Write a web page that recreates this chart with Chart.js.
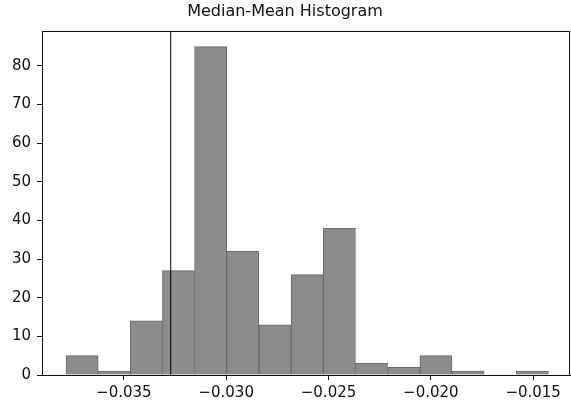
<!DOCTYPE html>
<html>
<head>
<meta charset="utf-8">
<script src="https://cdn.jsdelivr.net/npm/chart.js@4/dist/chart.umd.min.js"></script>
<style>
  html, body { margin: 0; padding: 0; background: #fff; overflow: hidden; }
  #wrap { width: 571px; height: 412px; position: relative; }
</style>
</head>
<body>
<div id="wrap"><canvas id="histChart"></canvas></div>
<script>
// histogram bins (centres) and counts
const binCenters = [-0.03704, -0.03547, -0.03390, -0.03233, -0.03076, -0.02919, -0.02761, -0.02604,
  -0.02447, -0.02290, -0.02132, -0.01975, -0.01818, -0.01661, -0.01504];
const counts = [5, 1, 14, 27, 85, 32, 13, 26, 38, 3, 2, 5, 1, 0, 1];

// the vertical marker line
const markerX = -0.03271;

const xTicks = [-0.035, -0.030, -0.025, -0.020, -0.015];
const yTicks = [0, 10, 20, 30, 40, 50, 60, 70, 80];
const xRange = [-0.0390, -0.0132];
const yRange = [0, 89];

Chart.defaults.font.family = "'DejaVu Sans', sans-serif";
Chart.defaults.color = '#222';

const frame = {
  id: 'frame',
  afterDatasetsDraw(chart) {
    const { ctx, chartArea: a } = chart;
    ctx.save();
    ctx.strokeStyle = '#111';
    ctx.lineWidth = 1;
    ctx.strokeRect(Math.round(a.left) + 0.5, Math.round(a.top) + 0.5,
      Math.round(a.right - a.left) - 1, Math.round(a.bottom - a.top));
    ctx.restore();
  }
};

const data = {
  datasets: [
    {
      type: 'bar',
      data: binCenters.map((x, i) => ({ x, y: counts[i] })),
      backgroundColor: '#8c8c8c',
      borderColor: '#6a6a6a',
      borderWidth: 1,
      barPercentage: 1,
      categoryPercentage: 1,
      grouped: false,
      order: 2,
    },
    {
      type: 'line',
      data: [{ x: markerX, y: yRange[0] }, { x: markerX, y: yRange[1] }],
      borderColor: '#000',
      borderWidth: 1,
      pointRadius: 0,
      order: 1,
    },
  ],
};

const fmtMinus = (v) => (v < 0 ? '\u2212' : '') + Math.abs(v).toFixed(3);

const options = {
  responsive: true,
  maintainAspectRatio: false,
  animation: false,
  layout: { padding: { left: 0, right: 1, top: 0, bottom: 0 } },
  plugins: {
    legend: { display: false },
    tooltip: { enabled: false },
    title: {
      display: true,
      text: 'Median-Mean Histogram',
      font: { size: 16, weight: 'normal' },
      color: '#111',
      padding: { top: 2, bottom: 10 },
    },
  },
  scales: {
    x: {
      type: 'linear',
      offset: false,
      min: xRange[0],
      max: xRange[1],
      afterBuildTicks: (axis) => { axis.ticks = xTicks.map((v) => ({ value: v })); },
      afterFit: (axis) => { axis.height = 37; },
      ticks: { font: { size: 15 }, color: '#111', padding: 4, callback: (v) => fmtMinus(v), maxRotation: 0 },
      grid: { offset: false, drawOnChartArea: false, tickLength: 5, tickColor: '#111' },
      border: { color: '#111' },
    },
    y: {
      min: yRange[0],
      max: yRange[1],
      afterBuildTicks: (axis) => { axis.ticks = yTicks.map((v) => ({ value: v })); },
      afterFit: (axis) => { axis.width = 42; },
      ticks: { font: { size: 15 }, color: '#111', padding: 6 },
      grid: { drawOnChartArea: false, tickLength: 5, tickColor: '#111' },
      border: { color: '#111' },
    },
  },
};

new Chart('histChart', { data, options, plugins: [frame] });
</script>
</body>
</html>
